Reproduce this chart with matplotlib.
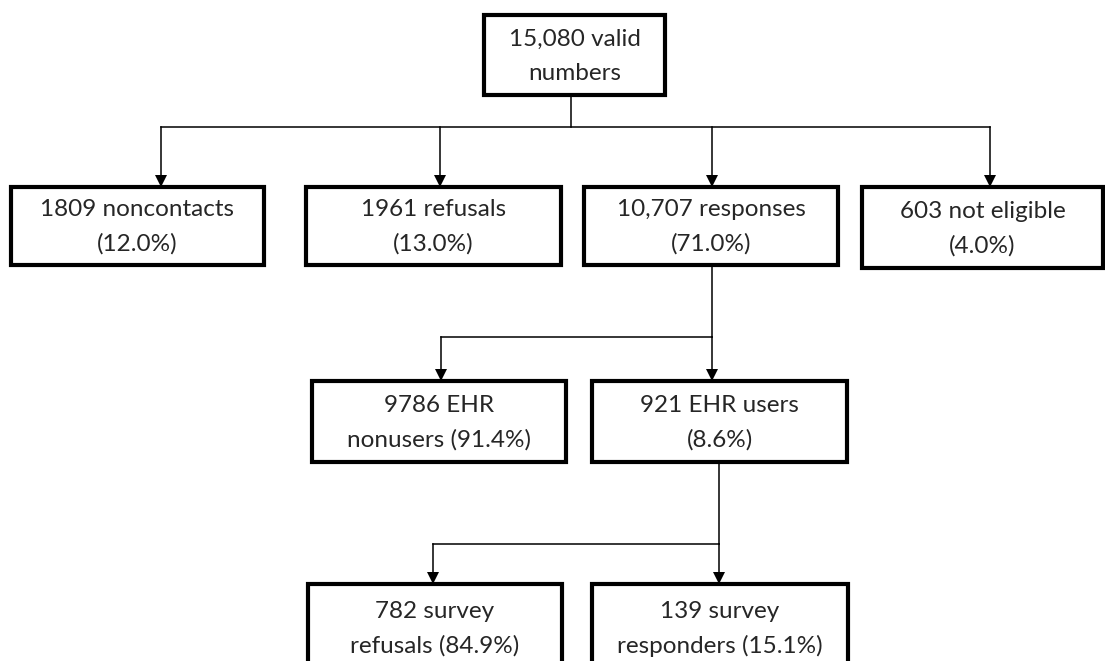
import matplotlib.pyplot as plt
from matplotlib.patches import Rectangle

# box labels (two lines each)
labels = [
    ("15,080 valid", "numbers"),
    ("1809 noncontacts", "(12.0%)"),
    ("1961 refusals", "(13.0%)"),
    ("10,707 responses", "(71.0%)"),
    ("603 not eligible", "(4.0%)"),
    ("9786 EHR", "nonusers (91.4%)"),
    ("921 EHR users", "(8.6%)"),
    ("782 survey", "refusals (84.9%)"),
    ("139 survey", "responders (15.1%)"),
]

# layout in pixel units: x0, y0, x1, y1
boxes = [
    (484, 15, 665, 95),
    (11, 187, 264, 265),
    (306, 187, 561, 265),
    (584, 187, 838, 265),
    (862, 187, 1103, 268),
    (312, 381, 566, 462),
    (592, 381, 847, 462),
    (308, 584, 562, 672),
    (592, 584, 848, 672),
]

fig = plt.figure(figsize=(11.05, 6.61), dpi=100)
ax = fig.add_axes([0, 0, 1, 1])
ax.set_xlim(0, 1105)
ax.set_ylim(661, 0)
ax.axis('off')

for (x0, y0, x1, y1), (l1, l2) in zip(boxes, labels):
    ax.add_patch(Rectangle((x0, y0), x1 - x0, y1 - y0, facecolor='white',
                           edgecolor='black', linewidth=3, joinstyle='miter', zorder=3))
    cx = (x0 + x1) / 2
    cy = (y0 + y1) / 2
    if y1 > 661:
        cy = 628
    ax.text(cx, cy - 16, l1, ha='center', va='center', fontsize=17.5,
            family='Lato', color='#262626', zorder=4)
    ax.text(cx, cy + 18, l2, ha='center', va='center', fontsize=17.5,
            family='Lato', color='#262626', zorder=4)

lc = dict(color='black', linewidth=1.1, zorder=2)


def arrow(x, ytop, ybot):
    ax.plot([x, x], [ytop, ybot - 6], **lc)
    ax.plot(x, ybot - 6, marker='v', markersize=9, color='black',
            markeredgewidth=0, zorder=5)


# first split
ax.plot([571, 571], [95, 127], **lc)
ax.plot([161, 990], [127, 127], **lc)
for x, b in zip([161, 440, 712, 990], boxes[1:5]):
    arrow(x, 127, b[1])

# second split
ax.plot([712, 712], [265, 337], **lc)
ax.plot([441, 712], [337, 337], **lc)
arrow(441, 337, boxes[5][1])
arrow(712, 337, boxes[6][1])

# third split
ax.plot([719, 719], [462, 544], **lc)
ax.plot([433, 719], [544, 544], **lc)
arrow(433, 544, boxes[7][1])
arrow(719, 544, boxes[8][1])

fig.savefig('out.png', dpi=100, facecolor='white')
